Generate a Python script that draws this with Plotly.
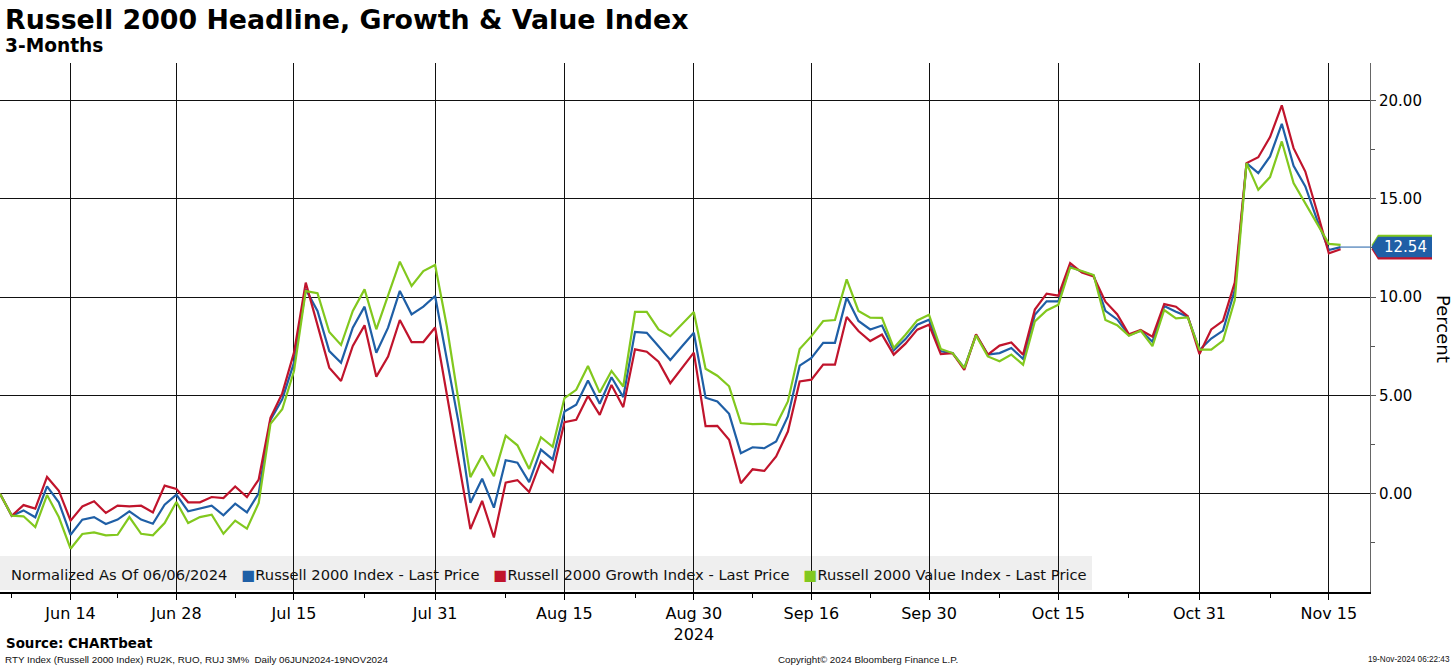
import pandas as pd
import plotly.graph_objects as go

# trading calendar shown on the chart
START = "2024-06-06"
END = "2024-11-18"
HOLIDAYS = ["2024-06-19", "2024-07-04", "2024-09-02"]
X_END = "2024-11-20 12:00"

TICK_DATES = ["2024-06-14", "2024-06-28", "2024-07-15", "2024-07-31", "2024-08-15",
              "2024-08-30", "2024-09-16", "2024-09-30", "2024-10-15", "2024-10-31",
              "2024-11-15"]
TICK_TEXT = ["Jun 14", "Jun 28", "Jul 15", "Jul 31", "Aug 15", "Aug 30<br>2024",
             "Sep 16", "Sep 30", "Oct 15", "Oct 31", "Nov 15"]
MINOR_DATES = ["2024-06-07", "2024-06-21", "2024-07-08", "2024-07-23", "2024-08-08",
               "2024-08-23", "2024-09-09", "2024-09-23", "2024-10-08", "2024-10-23",
               "2024-11-08"]
Y_TICKS = [0, 5, 10, 15, 20]
Y_MINOR = [-2.5, 2.5, 7.5, 12.5, 17.5]

# percent change, normalized to 06/06/2024
russell_2000 = [
    0, -1.12, -0.85, -1.2, 0.37, -0.44, -2.09, -1.32, -1.19, -1.54,
    -1.32, -0.9, -1.32, -1.53, -0.56, -0.05, -0.9, -0.76, -0.61, -1.1,
    -0.51, -0.95, 0.02, 3.75, 4.8, 6.66, 10.39, 9.29, 7.25, 6.66,
    8.44, 9.51, 7.17, 8.44, 10.31, 9.12, 9.51, 10.05, 6.8, 3.6,
    -0.46, 0.76, -0.71, 1.7, 1.57, 0.59, 2.24, 1.74, 4.18, 4.52,
    5.75, 4.57, 5.92, 4.91, 8.23, 8.18, 7.5, 6.8, 7.5, 8.18,
    4.88, 4.69, 4.06, 2.06, 2.36, 2.31, 2.65, 3.93, 6.51, 6.9,
    7.67, 7.67, 9.97, 8.78, 8.35, 8.55, 7.29, 7.86, 8.59, 8.85,
    7.24, 7.15, 6.39, 8.08, 7.07, 7.15, 7.41, 6.85, 9.1, 9.78,
    9.78, 11.56, 11.29, 11.09, 9.3, 8.86, 8.06, 8.29, 7.72, 9.54,
    9.25, 9.0, 7.3, 7.89, 8.29, 10.36, 16.81, 16.3, 17.15, 18.81,
    16.67, 15.62, 13.92, 12.39, 12.54,
]
russell_growth = [
    0, -1.12, -0.58, -0.76, 0.85, 0.15, -1.37, -0.65, -0.39, -0.98,
    -0.61, -0.65, -0.61, -0.95, 0.41, 0.24, -0.44, -0.44, -0.17, -0.22,
    0.37, -0.17, 0.72, 3.85, 5.1, 7.17, 10.73, 8.53, 6.41, 5.73,
    7.51, 8.56, 5.95, 6.97, 8.83, 7.71, 7.71, 8.45, 5.0, 1.6,
    -1.8, -0.37, -2.23, 0.56, 0.69, 0.08, 1.65, 1.1, 3.63, 3.76,
    4.97, 4.01, 5.53, 4.4, 7.34, 7.22, 6.71, 5.62, 6.41, 7.17,
    3.43, 3.45, 2.74, 0.53, 1.24, 1.16, 1.89, 3.16, 5.71, 5.8,
    6.56, 6.56, 8.98, 8.27, 7.76, 8.09, 7.07, 7.63, 8.34, 8.59,
    7.1, 7.15, 6.3, 8.1, 7.07, 7.53, 7.69, 7.07, 9.36, 10.17,
    10.07, 11.72, 11.24, 11.04, 9.76, 9.13, 8.1, 8.32, 7.98, 9.64,
    9.51, 9.03, 7.1, 8.35, 8.79, 10.73, 16.81, 17.11, 18.13, 19.75,
    17.57, 16.38, 14.35, 12.22, 12.43,
]
russell_value = [
    0, -1.12, -1.15, -1.7, -0.07, -1.19, -2.8, -2.05, -1.97, -2.12,
    -2.09, -1.19, -2.04, -2.12, -1.49, -0.42, -1.49, -1.19, -1.07, -2.04,
    -1.37, -1.78, -0.47, 3.55, 4.29, 6.24, 10.3, 10.19, 8.22, 7.56,
    9.29, 10.39, 8.36, 10.05, 11.8, 10.56, 11.32, 11.63, 8.5, 4.7,
    0.84, 1.94, 0.89, 2.95, 2.46, 1.26, 2.87, 2.38, 4.86, 5.28,
    6.49, 5.14, 6.24, 5.45, 9.24, 9.24, 8.35, 8.01, 8.62, 9.24,
    6.35, 6.0, 5.46, 3.59, 3.54, 3.55, 3.49, 4.69, 7.36, 8.01,
    8.78, 8.83, 10.9, 9.29, 8.95, 8.94, 7.41, 8.08, 8.81, 9.1,
    7.36, 7.15, 6.39, 8.05, 6.98, 6.73, 7.07, 6.56, 8.76, 9.32,
    9.61, 11.5, 11.32, 11.12, 8.83, 8.57, 8.03, 8.29, 7.5, 9.34,
    8.91, 8.96, 7.33, 7.33, 7.78, 9.85, 16.81, 15.45, 16.1, 17.91,
    15.79, 14.77, 13.75, 12.7, 12.65,
]

SERIES_NAMES = ["Russell 2000 Index - Last Price",
                "Russell 2000 Growth Index - Last Price",
                "Russell 2000 Value Index - Last Price"]
LEGEND_NOTE = "Normalized As Of 06/06/2024"
BLUE, RED, GREEN = "#1f5fa6", "#c0142c", "#82c81e"

dates = pd.bdate_range(START, END, freq="C", holidays=HOLIDAYS)

FONT = "DejaVu Sans"
SMALL = "Liberation Sans"
W, H = 1456, 666
M_L, M_R, M_T, M_B = 0, 86, 63, 74
PW, PH = W - M_L - M_R, H - M_T - M_B


def px_x(x):
    return (x - M_L) / PW


def px_y(y):
    return (H - M_B - y) / PH


fig = go.Figure()
for values, color in [(russell_2000, BLUE), (russell_growth, RED), (russell_value, GREEN)]:
    fig.add_trace(go.Scatter(x=dates, y=values, mode="lines",
                             line=dict(color=color, width=2.2),
                             showlegend=False, hoverinfo="skip"))

# legend strip inside the plot
legend_text = LEGEND_NOTE + "".join(
    f"\u00a0\u00a0\u00a0<span style='color:{c}'>\u25a0</span>{n}"
    for c, n in zip([BLUE, RED, GREEN], SERIES_NAMES)
)
shapes = [dict(type="rect", xref="paper", yref="paper", x0=0, x1=px_x(1092),
               y0=px_y(590), y1=px_y(556), fillcolor="#efefef", line_width=0,
               layer="below")]

# last value connector + tags
last = russell_2000[-1]
shapes.append(dict(type="line", xref="x", yref="y", x0=dates[-1], x1=X_END,
                   y0=last, y1=last, line=dict(color=BLUE, width=1)))


def tag_path(v, h=0.52):
    xt, xb, xe = px_x(1371.5), px_x(1378), px_x(1432)
    return f"M {xt},{v} L {xb},{v + h} L {xe},{v + h} L {xe},{v - h} L {xb},{v - h} Z"


for v, c in [(russell_value[-1], GREEN), (russell_growth[-1], RED), (last, BLUE)]:
    shapes.append(dict(type="path", xref="paper", yref="y", path=tag_path(v),
                       fillcolor=c, line_width=0))

annotations = [
    dict(text="Russell 2000 Headline, Growth & Value Index", x=px_x(3), y=px_y(19),
         font=dict(family=FONT, size=26.8, color="black", weight="bold")),
    dict(text="3-Months", x=px_x(3), y=px_y(46),
         font=dict(family=FONT, size=18.6, color="black", weight="bold")),
    dict(text=legend_text, x=px_x(9), y=px_y(574),
         font=dict(family=FONT, size=14.7, color="#111")),
    dict(text="Source: CHARTbeat", x=px_x(4), y=px_y(643),
         font=dict(family=FONT, size=13.4, color="black", weight="bold")),
    dict(text="RTY Index (Russell 2000 Index) RU2K, RUO, RUJ 3M%\u00a0\u00a0Daily 06JUN2024-19NOV2024",
         x=px_x(3), y=px_y(659), font=dict(family=SMALL, size=9.8, color="#111")),
    dict(text="Copyright\u00a9 2024 Bloomberg Finance L.P.", x=px_x(776), y=px_y(659),
         font=dict(family=SMALL, size=9.8, color="#111")),
    dict(text="19-Nov-2024 06:22:43", x=px_x(1452), y=px_y(659), xanchor="right",
         font=dict(family=SMALL, size=8.2, color="#111")),
    dict(text="Percent", x=px_x(1444), y=px_y(329), xanchor="center", textangle=90,
         font=dict(family=FONT, size=18, color="black")),
    dict(text=f"{last:.2f}", x=px_x(1405), y=last, yref="y", xanchor="center",
         font=dict(family=FONT, size=15, color="white")),
]
for a in annotations:
    a.setdefault("xref", "paper")
    a.setdefault("yref", "paper")
    a.setdefault("xanchor", "left")
    a.setdefault("yanchor", "middle")
    a["showarrow"] = False

fig.update_layout(
    width=W, height=H,
    margin=dict(l=M_L, r=M_R, t=M_T, b=M_B, pad=0),
    paper_bgcolor="white", plot_bgcolor="white",
    font=dict(family=FONT, color="black"),
    shapes=shapes, annotations=annotations,
    xaxis=dict(
        type="date", range=[START, X_END], automargin=False,
        rangebreaks=[dict(bounds=["sat", "mon"]), dict(values=HOLIDAYS)],
        tickmode="array", tickvals=TICK_DATES, ticktext=TICK_TEXT,
        ticks="outside", ticklen=6, tickcolor="black",
        tickfont=dict(family=FONT, size=16, color="black"),
        showgrid=True, gridcolor="#111", gridwidth=1,
        showline=True, linecolor="black", linewidth=2, zeroline=False,
        minor=dict(tickmode="array", tickvals=MINOR_DATES, ticks="outside",
                   ticklen=4, tickcolor="black", showgrid=False),
    ),
    yaxis=dict(
        side="right", range=[-5.0, 21.9], automargin=False,
        tickmode="array", tickvals=Y_TICKS, tickformat=".2f",
        ticks="outside", ticklen=5, tickcolor="#555",
        tickfont=dict(family=FONT, size=15, color="black"),
        showgrid=True, gridcolor="#111", gridwidth=1,
        showline=True, linecolor="#666", linewidth=1, zeroline=False,
        minor=dict(tickmode="array", tickvals=Y_MINOR, ticks="outside",
                   ticklen=4, tickcolor="#555", showgrid=False),
    ),
)

fig.write_html("out.html", config={"displayModeBar": False},
               post_script="document.body.style.margin='0';")
